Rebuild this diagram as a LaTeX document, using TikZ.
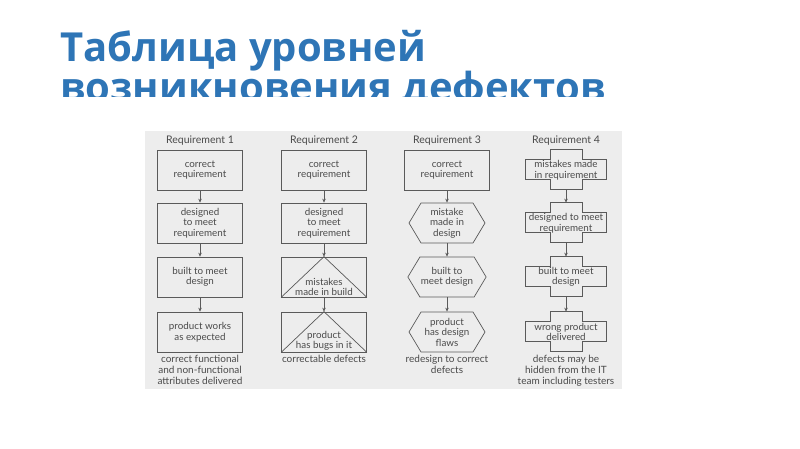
\documentclass[tikz,border=0pt]{standalone}
\usepackage{fontspec}
\setmainfont{Lato}
\newfontfamily\titlefont{Open Sans}
\usetikzlibrary{arrows.meta,calc,positioning,shapes.symbols}
\definecolor{TitleBlue}{HTML}{2E75B6}
\definecolor{ScanBg}{HTML}{EDEDED}
\definecolor{InkGrey}{HTML}{4A4A4A}
\definecolor{LineGrey}{HTML}{5A5A5A}

\begin{document}
\begin{tikzpicture}[x=1pt, y=-1pt,
  blk/.style={draw=LineGrey, line width=0.7pt, minimum width=85pt, minimum height=40pt, inner sep=1pt, font=\fontsize{9.8}{10.5}\selectfont, text=InkGrey, align=center},
  hexa/.style={blk, shape=signal, signal to=east and west, signal pointer angle=118, minimum width=76pt},
  plus/.style={blk, draw=none, minimum width=81pt},
  txt/.style={font=\fontsize{9.8}{10.5}\selectfont, text=InkGrey, align=center, inner sep=0pt},
  hdr/.style={font=\fontsize{10.5}{11}\selectfont, text=InkGrey},
  outc/.style={font=\fontsize{10}{11}\selectfont, text=InkGrey, align=center, anchor=north, inner sep=0pt},
  arr/.style={draw=LineGrey, line width=0.6pt, -{Stealth[length=4pt, width=3.5pt]}},
  outl/.style={draw=LineGrey, line width=0.7pt},
  ttl/.style={anchor=base west, inner sep=0pt, font=\titlefont\bfseries\fontsize{40}{40}\selectfont, text=TitleBlue},
]
\useasboundingbox (0,0) rectangle (800,449);
\def\ca{200} \def\cb{324} \def\cc{447} \def\cd{566}
\def\ra{170} \def\rb{223} \def\rc{277} \def\rd{332}
% ---------------- title
\node[ttl] (t1) at (60,62) {Таблица уровней};
\begin{scope}
  \clip (0,0) rectangle (800,97);
  \node[ttl] (t2) at (60,102) {возникновения дефектов};
\end{scope}
% ---------------- scanned table
\fill[ScanBg] (145,131) rectangle (622,389);
\node[hdr] (h1) at (\ca,141) {Requirement 1};
\node[hdr] (h2) at (\cb,141) {Requirement 2};
\node[hdr] (h3) at (\cc,141) {Requirement 3};
\node[hdr] (h4) at (\cd,141) {Requirement 4};
% requirement 1
\node[blk] (a1) at (\ca,\ra) {correct\\requirement};
\node[blk] (a2) at (\ca,\rb) {designed\\to meet\\requirement};
\node[blk] (a3) at (\ca,\rc) {built to meet\\design};
\node[blk] (a4) at (\ca,\rd) {product works\\as expected};
% requirement 2
\node[blk] (b1) at (\cb,\ra) {correct\\requirement};
\node[blk] (b2) at (\cb,\rb) {designed\\to meet\\requirement};
\node[blk] (b3) at (\cb,\rc) {};
\node[blk] (b4) at (\cb,\rd) {};
\draw[outl] (b3.south west) -- (b3.north) -- (b3.south east);
\draw[outl] (b4.south west) -- (b4.north) -- (b4.south east);
\node[txt] (b3t) at ($(b3.center)+(0,10)$) {mistakes\\made in build};
\node[txt] (b4t) at ($(b4.center)+(0,9)$) {product\\has bugs in it};
% requirement 3
\node[blk] (c1) at (\cc,\ra) {correct\\requirement};
\node[hexa] (c2) at (\cc,\rb) {mistake\\made in\\design};
\node[hexa] (c3) at (\cc,\rc) {built to\\meet design};
\node[hexa] (c4) at (\cc,\rd) {product\\has design\\flaws};
% requirement 4
\node[plus] (d1) at (\cd,\ra) {mistakes made\\in requirement};
\node[plus] (d2) at (\cd,\rb) {designed to meet\\requirement};
\node[plus] (d3) at (\cd,\rc) {built to meet\\design};
\node[plus] (d4) at (\cd,\rd) {wrong product\\delivered};
\foreach \n in {d1,d2,d3,d4}
  \draw[outl] ($(\n.north)+(-16,0)$) -- ++(32,0) -- ++(0,10) -- ++(24.5,0) -- ++(0,20) -- ++(-24.5,0) -- ++(0,10) -- ++(-32,0) -- ++(0,-10) -- ++(-24.5,0) -- ++(0,-20) -- ++(24.5,0) -- cycle;
% arrows
\foreach \c in {a,b,c,d} {
  \draw[arr] (\c1.south) -- (\c2.north);
  \draw[arr] (\c2.south) -- (\c3.north);
  \draw[arr] (\c3.south) -- (\c4.north);
}
% outcomes
\node[outc] (o1) at (\ca,355) {correct functional\\and non-functional\\attributes delivered};
\node[outc] (o2) at (\cb,355) {correctable defects};
\node[outc] (o3) at (\cc,355) {redesign to correct\\defects};
\node[outc] (o4) at (\cd,355) {defects may be\\hidden from the IT\\team including testers};
\end{tikzpicture}
\end{document}
